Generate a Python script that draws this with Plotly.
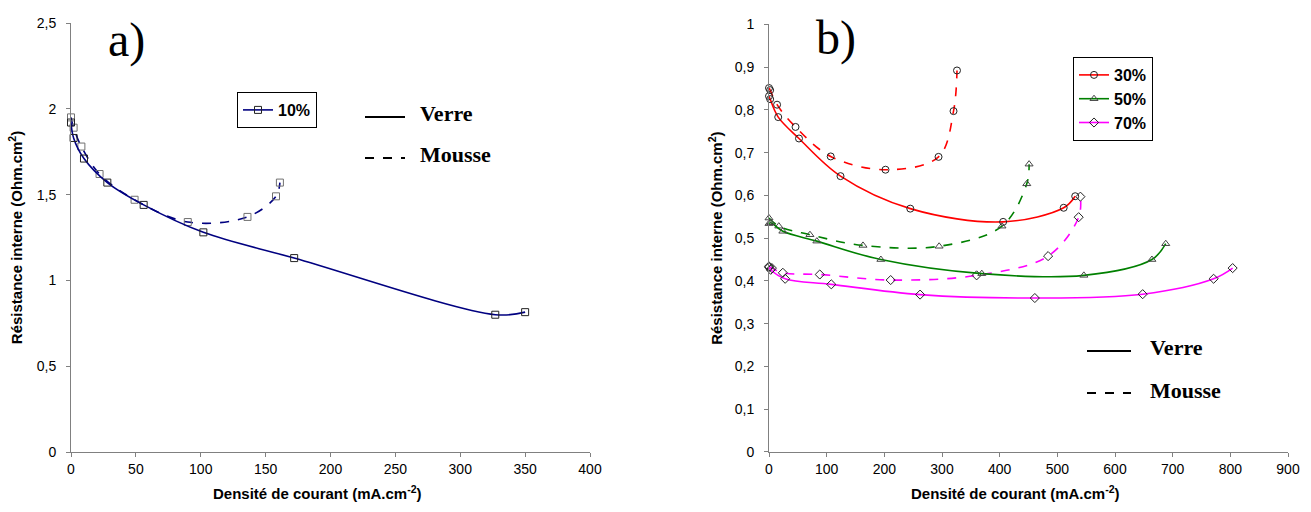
import plotly.graph_objects as go

# ---- Panel a) : 10 % ----
a_verre_x = [0, 2, 10, 28, 56, 102, 172, 327, 350]
a_verre_y = [1.92, 1.83, 1.71, 1.57, 1.44, 1.28, 1.13, 0.80, 0.815]
a_mousse_x = [0, 2, 8, 22, 49, 90, 136, 158, 161]
a_mousse_y = [1.95, 1.89, 1.78, 1.62, 1.47, 1.34, 1.37, 1.49, 1.57]

# ---- Panel b) : 30 / 50 / 70 % ----
b30_verre_x = [0, 2, 16, 52, 124, 245, 406, 511, 531]
b30_verre_y = [0.832, 0.825, 0.783, 0.733, 0.645, 0.569, 0.538, 0.571, 0.598]
b30_mousse_x = [0, 2, 14, 46, 107, 202, 294, 320, 326]
b30_mousse_y = [0.851, 0.846, 0.812, 0.760, 0.691, 0.660, 0.690, 0.797, 0.892]

b50_verre_x = [0, 3, 24, 83, 194, 369, 546, 664, 688]
b50_verre_y = [0.534, 0.536, 0.516, 0.493, 0.450, 0.417, 0.413, 0.450, 0.487]
b50_mousse_x = [0, 17, 71, 163, 295, 404, 447, 451]
b50_mousse_y = [0.547, 0.528, 0.508, 0.483, 0.481, 0.528, 0.627, 0.673]

b70_verre_x = [0, 3, 28, 108, 262, 461, 648, 771, 804]
b70_verre_y = [0.432, 0.426, 0.405, 0.392, 0.368, 0.360, 0.369, 0.405, 0.430]
b70_mousse_x = [0, 5, 24, 88, 211, 360, 484, 537, 540]
b70_mousse_y = [0.434, 0.430, 0.419, 0.415, 0.402, 0.413, 0.458, 0.549, 0.597]

X_TITLE = "Densité de courant (mA.cm<sup>-2</sup>)"
Y_TITLE = "Résistance interne (Ohm.cm<sup>2</sup>)"

NAVY = "#000080"
RED = "#FF0000"
GREEN = "#008000"
MAGENTA = "#FF00FF"

fig = go.Figure()


def add(x, y, color, symbol, dash, name, show, xa, ya, legend, mcolor="#222222"):
    fig.add_trace(go.Scatter(
        x=x, y=y, mode="lines+markers", name=name, showlegend=show,
        line=dict(color=color, width=1.6, dash=dash, shape="spline", smoothing=1.0),
        marker=dict(symbol=symbol, size=7, color=mcolor, line=dict(width=1, color=mcolor)),
        xaxis=xa, yaxis=ya, legend=legend, cliponaxis=False,
    ))


add(a_mousse_x, a_mousse_y, NAVY, "square-open", "dash", "10%", False, "x", "y", "legend", "#707070")
add(a_verre_x, a_verre_y, NAVY, "square-open", "solid", "10%", True, "x", "y", "legend", "#222222")

add(b30_mousse_x, b30_mousse_y, RED, "circle-open", "dash", "30%", False, "x2", "y2", "legend2")
add(b50_mousse_x, b50_mousse_y, GREEN, "triangle-up-open", "dash", "50%", False, "x2", "y2", "legend2", "#444444")
add(b70_mousse_x, b70_mousse_y, MAGENTA, "diamond-open", "dash", "70%", False, "x2", "y2", "legend2")
add(b30_verre_x, b30_verre_y, RED, "circle-open", "solid", "30%", True, "x2", "y2", "legend2")
add(b50_verre_x, b50_verre_y, GREEN, "triangle-up-open", "solid", "50%", True, "x2", "y2", "legend2", "#444444")
add(b70_verre_x, b70_verre_y, MAGENTA, "diamond-open", "solid", "70%", True, "x2", "y2", "legend2")

W, H = 1311, 512
MT, MB = 23, 60


def px(xp):
    return xp / W


def py(yp):
    return (H - MB - yp) / (H - MT - MB)


tickfont = dict(family="Liberation Sans, Arial", size=14, color="black")
titlefont = dict(family="Liberation Sans, Arial", size=15, color="black", weight="bold")
axcommon = dict(showline=True, linecolor="#808080", linewidth=1, ticks="outside",
                ticklen=4, tickcolor="#808080", showgrid=False, zeroline=False,
                tickfont=tickfont, automargin=False)
legfont = dict(family="Liberation Sans, Arial", size=16, color="black", weight="bold")

fig.update_layout(
    width=W, height=H,
    margin=dict(l=0, r=0, t=MT, b=MB),
    paper_bgcolor="white", plot_bgcolor="white",
    separators=", ",
    xaxis=dict(domain=[px(71), px(590)], range=[0, 400], dtick=50, anchor="y", **axcommon),
    yaxis=dict(domain=[0, 1], range=[0, 2.5], dtick=0.5, anchor="x", ticklabelstandoff=7,
               title=dict(text=Y_TITLE, font=titlefont, standoff=10),
               **axcommon),
    xaxis2=dict(domain=[px(769), px(1288)], range=[0, 900], dtick=100, anchor="y2", **axcommon),
    yaxis2=dict(domain=[0, 0.997], range=[0, 1], dtick=0.1, anchor="x2", ticklabelstandoff=7,
                title=dict(text=Y_TITLE, font=titlefont, standoff=8),
                **axcommon),
    legend=dict(x=px(237), y=py(92), xanchor="left", yanchor="top",
                bordercolor="black", borderwidth=1, bgcolor="white",
                font=legfont, itemwidth=30, tracegroupgap=0),
    legend2=dict(x=px(1073), y=py(57), xanchor="left", yanchor="top",
                 bordercolor="black", borderwidth=1, bgcolor="white",
                 font=legfont, itemwidth=30, tracegroupgap=0),
    showlegend=True,
)

serif_big = dict(family="Liberation Serif, Times New Roman", size=48, color="black")
serif_lbl = dict(family="Liberation Serif, Times New Roman", size=22, color="black", weight="bold")

annotations = [
    dict(text="a)", x=px(126), y=py(40), font=serif_big),
    dict(text="b)", x=px(836), y=py(38), font=serif_big),
    dict(text="Verre", x=px(418), y=py(113), font=serif_lbl, xanchor="left"),
    dict(text="Mousse", x=px(418), y=py(154), font=serif_lbl, xanchor="left"),
    dict(text="Verre", x=px(1148), y=py(347), font=serif_lbl, xanchor="left"),
    dict(text="Mousse", x=px(1148), y=py(390), font=serif_lbl, xanchor="left"),
    dict(text=X_TITLE, x=px(317), y=py(492), font=titlefont),
    dict(text=X_TITLE, x=px(1016), y=py(492), font=titlefont),
]
for a in annotations:
    a.update(xref="paper", yref="paper", showarrow=False, yanchor="middle")
    a.setdefault("xanchor", "center")
fig.update_layout(annotations=annotations)

shapes = [
    (365, 405, 117, "solid"),
    (365, 405, 158, "dash"),
    (1087, 1131, 351, "solid"),
    (1087, 1131, 393, "dash"),
]
fig.update_layout(shapes=[
    dict(type="line", xref="paper", yref="paper", x0=px(a), x1=px(b), y0=py(c), y1=py(c),
         line=dict(color="black", width=2, dash=d)) for a, b, c, d in shapes
])

fig.write_html(
    "out.html",
    config={"displayModeBar": False},
    post_script=("document.body.style.margin='0';document.body.style.overflow='hidden';"
                 "document.documentElement.style.overflow='hidden';"),
)
